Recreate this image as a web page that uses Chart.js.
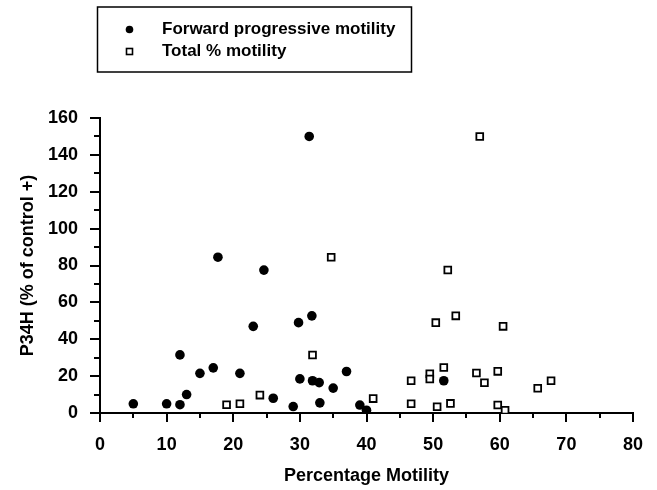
<!DOCTYPE html>
<html>
<head>
<meta charset="utf-8">
<script src="https://cdn.jsdelivr.net/npm/chart.js@4.4.1/dist/chart.umd.min.js"></script>
<style>
  html, body { margin: 0; padding: 0; background: #fff; }
  #chart { display: block; }
</style>
</head>
<body>
<canvas id="chart" width="657" height="490"></canvas>
<script>
// values
var forwardX = [5, 10, 12, 12, 13, 15, 17, 17.7, 21, 23, 24.6, 26, 29, 29.8, 30, 31.4, 31.8, 31.9, 32.9, 33, 35, 37, 39, 40, 51.6];
var forwardY = [5, 5, 4.5, 31.5, 10, 21.5, 24.5, 84.5, 21.5, 47, 77.5, 8, 3.5, 49, 18.5, 150, 52.7, 17.5, 16.5, 5.5, 13.5, 22.5, 4.3, 1.5, 17.5];
var totalX = [19, 21, 24, 31.9, 34.7, 41, 46.7, 46.7, 49.5, 49.5, 50.4, 50.6, 51.6, 52.2, 52.6, 53.4, 56.5, 57, 57.7, 59.7, 59.7, 60.5, 60.8, 65.7, 67.7];
var totalY = [4.5, 5, 9.7, 31.5, 84.5, 7.8, 17.5, 5, 21.3, 18.4, 49, 3.4, 24.7, 77.6, 5.2, 52.7, 21.7, 150, 16.4, 22.6, 4.3, 47, 1.5, 13.4, 17.5];
var xTicks = [0, 10, 20, 30, 40, 50, 60, 70, 80];
var yTicks = [0, 20, 40, 60, 80, 100, 120, 140, 160];

function toPoints(xs, ys) {
    return xs.map(function(x, i) { return { x: x, y: ys[i] }; });
}

var FONT = '"Liberation Sans", Arial, Helvetica, sans-serif';

// minor + major tick marks drawn from the scales
var tickMarks = {
    id: 'tickMarks',
    afterDraw: function(chart) {
        var ctx = chart.ctx, xs = chart.scales.x, ys = chart.scales.y;
        var area = chart.chartArea;
        ctx.save();
        ctx.strokeStyle = '#000';
        ctx.lineWidth = 2;
        ctx.beginPath();
        for (var v = xs.min; v <= xs.max; v += 5) {
            var px = Math.round(xs.getPixelForValue(v));
            var len = (v % 10 === 0) ? 9 : 5;
            ctx.moveTo(px, area.bottom);
            ctx.lineTo(px, area.bottom + len);
        }
        for (var w = ys.min; w <= ys.max; w += 10) {
            var py = Math.round(ys.getPixelForValue(w));
            var l2 = (w % 20 === 0) ? 10 : 6;
            ctx.moveTo(area.left, py);
            ctx.lineTo(area.left - l2, py);
        }
        ctx.stroke();
        ctx.restore();
    }
};

// boxed legend in the top left
var boxLegend = {
    id: 'boxLegend',
    afterDraw: function(chart) {
        var ctx = chart.ctx;
        var sets = chart.data.datasets;
        ctx.save();
        ctx.strokeStyle = '#000';
        ctx.lineWidth = 1.5;
        ctx.strokeRect(97.5, 7, 314, 65);

        ctx.fillStyle = '#000';
        ctx.beginPath();
        ctx.arc(129.5, 29.5, 3.8, 0, Math.PI * 2);
        ctx.fill();

        ctx.lineWidth = 1.6;
        ctx.fillStyle = '#fff';
        ctx.fillRect(126.5, 48.5, 6, 6);
        ctx.strokeRect(126.5, 48.5, 6, 6);

        ctx.fillStyle = '#000';
        ctx.font = 'bold 17px ' + FONT;
        ctx.textBaseline = 'middle';
        ctx.textAlign = 'left';
        ctx.fillText(sets[0].label, 162, 29.5);
        ctx.fillText(sets[1].label, 162, 51.5);
        ctx.restore();
    }
};

var ctx = document.getElementById('chart').getContext('2d');
var chart = new Chart(ctx, {
    type: 'scatter',
    data: {
        datasets: [{
            label: 'Forward progressive motility',
            data: toPoints(forwardX, forwardY),
            pointStyle: 'circle',
            pointRadius: 4.8,
            backgroundColor: '#000',
            borderColor: '#000',
            borderWidth: 0
        }, {
            label: 'Total % motility',
            data: toPoints(totalX, totalY),
            pointStyle: 'rect',
            pointRadius: 4.8,
            backgroundColor: '#fff',
            borderColor: '#000',
            borderWidth: 1.8
        }]
    },
    options: {
        responsive: false,
        animation: false,
        layout: { padding: { left: 0, top: 118, right: 24, bottom: 0 } },
        plugins: {
            legend: { display: false },
            tooltip: { enabled: false }
        },
        scales: {
            x: {
                type: 'linear',
                min: 0,
                max: 80,
                afterFit: function(scale) {
                    scale.height = 77;
                    scale.paddingLeft = 0;
                    scale.paddingRight = 0;
                },
                afterBuildTicks: function(scale) {
                    scale.ticks = xTicks.map(function(v) { return { value: v }; });
                },
                grid: { display: false, drawTicks: false },
                border: { display: true, color: '#000', width: 2 },
                ticks: {
                    color: '#000',
                    padding: 21,
                    maxRotation: 0,
                    font: { family: FONT, size: 18, weight: 'bold' }
                },
                title: {
                    display: true,
                    text: 'Percentage Motility',
                    color: '#000',
                    padding: { top: 0, bottom: 3 },
                    font: { family: FONT, size: 18, weight: 'bold' }
                }
            },
            y: {
                type: 'linear',
                min: 0,
                max: 160,
                afterFit: function(scale) {
                    scale.width = 100;
                    scale.paddingTop = 0;
                    scale.paddingBottom = 0;
                },
                afterBuildTicks: function(scale) {
                    scale.ticks = yTicks.map(function(v) { return { value: v }; });
                },
                grid: { display: false, drawTicks: false },
                border: { display: true, color: '#000', width: 2 },
                ticks: {
                    color: '#000',
                    padding: 22,
                    font: { family: FONT, size: 18, weight: 'bold' }
                },
                title: {
                    display: true,
                    text: 'P34H (% of control +)',
                    color: '#000',
                    padding: { top: 17, bottom: 0 },
                    font: { family: FONT, size: 18, weight: 'bold' }
                }
            }
        }
    },
    plugins: [tickMarks, boxLegend]
});
</script>
</body>
</html>
